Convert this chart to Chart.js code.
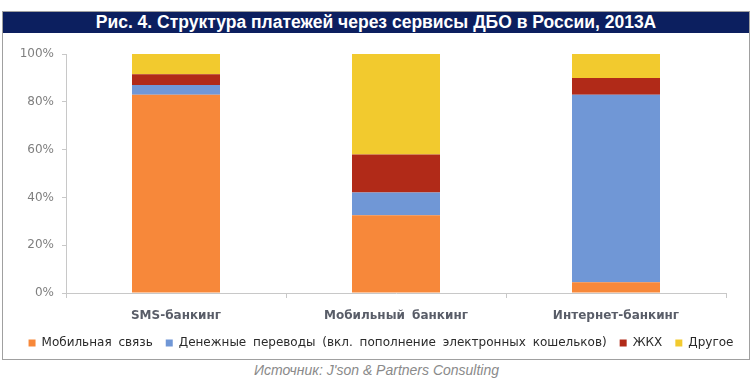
<!DOCTYPE html>
<html>
<head>
<meta charset="utf-8">
<script src="https://cdn.jsdelivr.net/npm/chart.js@4.4.1/dist/chart.umd.min.js"></script>
<style>
  html, body { margin: 0; padding: 0; background: #fff; }
  #frame { position: absolute; left: 2px; top: 11px; width: 746px; height: 347px; border: 1px solid #a0a0a0; box-sizing: content-box; }
  #title { position: absolute; left: 0; top: 0; width: 746px; height: 21px; background: #0c1f5f; color: #fff;
           font-family: "Liberation Sans Narrow", "Liberation Sans", sans-serif; font-weight: bold; font-size: 17.5px;
           line-height: 21px; text-align: center; }
  #wrap { position: absolute; left: 0; top: 22px; width: 746px; height: 325px; }
  #source { position: absolute; left: 0; top: 362px; width: 753px; text-align: center; color: #8a8a8a;
            font-family: "Liberation Sans Narrow", "Liberation Sans", sans-serif; font-style: italic; font-size: 14px; }
</style>
</head>
<body>
<div id="frame">
  <div id="title">Рис. 4. Структура платежей через сервисы ДБО в России, 2013А</div>
  <div id="wrap"><canvas id="c"></canvas></div>
</div>
<div id="source">Источник: J'son &amp; Partners Consulting</div>
<script>
const categories = ['SMS-банкинг', 'Мобильный банкинг', 'Интернет-банкинг'];
const seriesNames = ['Мобильная связь', 'Денежные переводы (вкл. пополнение электронных кошельков)', 'ЖКХ', 'Другое'];
const mobileComm = [83, 32.5, 4.5];
const transfers = [4, 9.5, 78.5];
const utilities = [4.5, 16, 7];
const otherPay = [8.5, 42, 10];
const yTickValues = [0, 20, 40, 60, 80, 100];
const colors = ['#f7883a', '#7097d6', '#b12a18', '#f2ca2e'];

const seriesValues = [mobileComm, transfers, utilities, otherPay];
const datasets = seriesNames.map((n, i) => ({
  label: n,
  data: seriesValues[i],
  backgroundColor: colors[i],
  borderWidth: 0,
  barPercentage: 0.4,
  categoryPercentage: 1.0
}));

const spacingPlugin = {
  id: 'wordSpacing',
  beforeUpdate(chart) { chart.ctx.wordSpacing = '3px'; },
  beforeLayout(chart) { chart.ctx.wordSpacing = '3px'; },
  afterLayout(chart) {
    if (chart.legend) { chart.legend.left += 5; chart.legend.right += 5; }
  },
  beforeDraw(chart) { chart.ctx.wordSpacing = '3px'; }
};

new Chart(document.getElementById('c'), {
  type: 'bar',
  data: { labels: categories, datasets },
  plugins: [spacingPlugin],
  options: {
    responsive: true,
    maintainAspectRatio: false,
    animation: false,
    layout: { padding: { left: 0, right: 0, top: 20, bottom: 0 } },
    plugins: {
      tooltip: { enabled: false },
      legend: {
        position: 'bottom',
        labels: {
          boxWidth: 7, boxHeight: 7, padding: 13,
          color: '#2a2a2a',
          font: { family: 'DejaVu Sans', size: 12 }
        }
      }
    },
    scales: {
      x: {
        stacked: true,
        offset: true,
        grid: { display: true, drawOnChartArea: false, drawTicks: true, tickLength: 5, color: '#c8c8c8', offset: true },
        border: { display: true, color: '#c8c8c8', width: 1 },
        ticks: { color: '#595d68', font: { family: 'DejaVu Sans', size: 12, weight: 'bold' }, padding: 11 },
        afterFit: (s) => { s.height = 31; }
      },
      y: {
        stacked: true,
        min: 0, max: 100,
        afterBuildTicks: (s) => { s.ticks = yTickValues.map(v => ({ value: v })); },
        grid: { display: true, drawOnChartArea: false, drawTicks: true, tickLength: 4, color: '#c8c8c8' },
        border: { display: true, color: '#c8c8c8', width: 1 },
        ticks: { color: '#7f7f7f', font: { family: 'DejaVu Sans', size: 12 }, padding: 8, callback: v => v + '%' },
        afterFit: (s) => { s.width = 63; }
      },
      yRightSpace: {
        position: 'right',
        display: true,
        min: 0, max: 100,
        grid: { display: false, drawTicks: false },
        border: { display: false },
        ticks: { display: false },
        afterFit: (s) => { s.width = 23; }
      }
    }
  }
});
</script>
</body>
</html>
